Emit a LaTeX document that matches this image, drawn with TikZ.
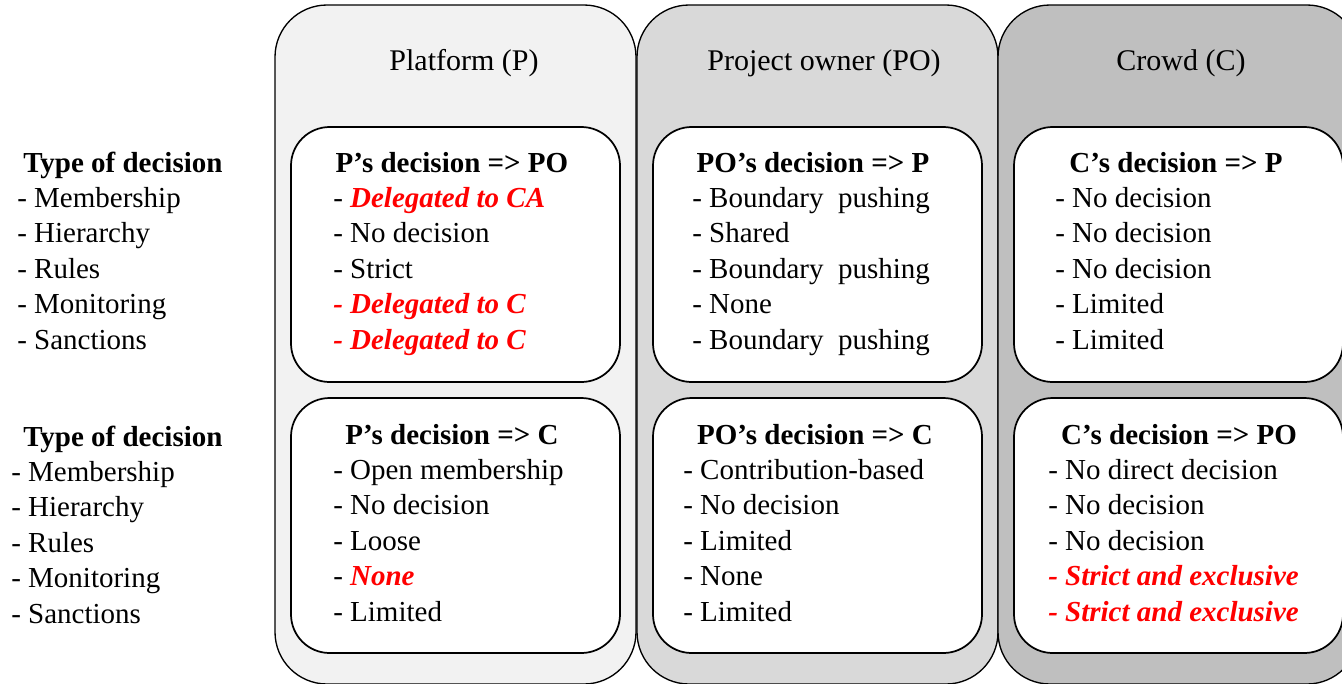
\documentclass[tikz,border=0pt]{standalone}
\usepackage{fontspec}
\setmainfont{Liberation Serif}
\usepackage{xcolor}
\usetikzlibrary{positioning}
\definecolor{pfill}{HTML}{F2F2F2}
\definecolor{pofill}{HTML}{D9D9D9}
\definecolor{cfill}{HTML}{BFBFBF}
\definecolor{hot}{HTML}{FF0000}
\newcommand{\redit}[1]{\textcolor{hot}{\textbf{\textit{#1}}}}

\tikzset{
  column/.style={draw=black, line width=1pt, rounded corners=39pt},
  card/.style={draw=black, line width=1.3pt, fill=white, rounded corners=29pt},
  coltitle/.style={anchor=base, inner sep=0pt, font=\fontsize{22.5}{27}\selectfont},
  cardhead/.style={anchor=base, inner sep=0pt, font=\fontsize{21.75}{26.6}\selectfont\bfseries},
  % base of a multi-line node is its last line
  carditems/.style={anchor=base west, inner sep=0pt, align=left, font=\fontsize{21.75}{26.6}\selectfont},
}

\begin{document}
\begin{tikzpicture}[x=0.75pt,y=-0.75pt]
			\useasboundingbox (0,0) rectangle (1342,683);
			\clip (0,0) rectangle (1342,683);

			% the three actors
			\draw [column, fill=pfill] (275,5) rectangle (636,684);
			\draw [column, fill=pofill] (637,5) rectangle (998,684);
			\draw [column, fill=cfill] (998,5) rectangle (1359,684);

			\node [coltitle] (tP) at (464,70) {Platform (P)};
			\node [coltitle] (tPO) at (824,70) {Project owner (PO)};
			\node [coltitle] (tC) at (1181,70) {Crowd (C)};

			% decision cards
			\draw [card] (291,127) rectangle (620,382);
			\draw [card] (291,398) rectangle (620,653);
			\draw [card] (653,127) rectangle (982,382);
			\draw [card] (653,398) rectangle (982,653);
			\draw [card] (1014,127) rectangle (1343,382);
			\draw [card] (1014,398) rectangle (1343,653);

			% row labels
			\node [cardhead, anchor=base west] (typeA) at (23,172) {Type of decision};
			\node [carditems] (listA) at (17,349) {- Membership\\- Hierarchy\\- Rules\\- Monitoring\\- Sanctions};
			\node [cardhead, anchor=base west] (typeB) at (23,446) {Type of decision};
			\node [carditems] (listB) at (11,623) {- Membership\\- Hierarchy\\- Rules\\- Monitoring\\- Sanctions};

			% platform
			\node [cardhead] (hPtoPO) at (452,172) {P's decision => PO};
			\node [carditems] (lPtoPO) at (333,349) {- \redit{Delegated to CA}\\- No decision\\- Strict\\\redit{- Delegated to C}\\\redit{- Delegated to C}};
			\node [cardhead] (hPtoC) at (452,444) {P's decision => C};
			\node [carditems] (lPtoC) at (333,621) {- Open membership\\- No decision\\- Loose\\- \redit{None}\\- Limited};

			% project owner
			\node [cardhead] (hPOtoP) at (813,172) {PO's decision => P};
			\node [carditems] (lPOtoP) at (692,349) {- Boundary\ \ pushing\\- Shared\\- Boundary\ \ pushing\\- None\\- Boundary\ \ pushing};
			\node [cardhead] (hPOtoC) at (815,444) {PO's decision => C};
			\node [carditems] (lPOtoC) at (683,621) {- Contribution-based\\- No decision\\- Limited\\- None\\- Limited};

			% crowd
			\node [cardhead] (hCtoP) at (1176,172) {C's decision => P};
			\node [carditems] (lCtoP) at (1055,349) {- No decision\\- No decision\\- No decision\\- Limited\\- Limited};
			\node [cardhead] (hCtoPO) at (1179,444) {C's decision => PO};
			\node [carditems] (lCtoPO) at (1048,621) {- No direct decision\\- No decision\\- No decision\\\redit{- Strict and exclusive}\\\redit{- Strict and exclusive}};
		\end{tikzpicture}
\end{document}
